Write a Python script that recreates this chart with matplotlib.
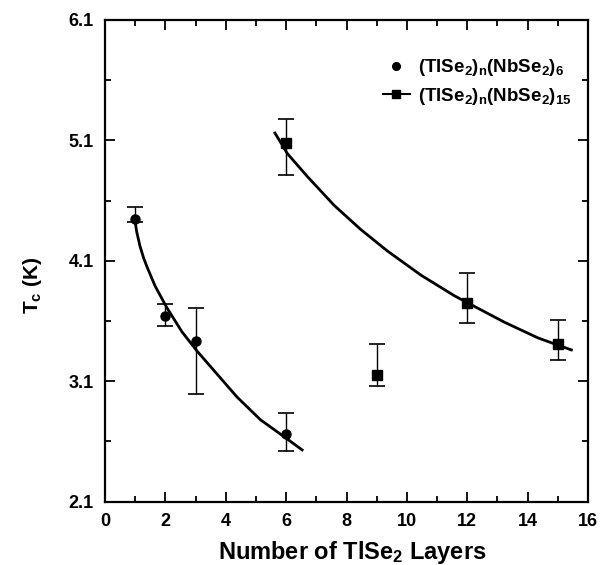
import matplotlib
matplotlib.use("Agg")
import matplotlib.pyplot as plt
from matplotlib.lines import Line2D
from matplotlib.ticker import MultipleLocator

plt.rcParams['font.family'] = ['Liberation Sans', 'DejaVu Sans']
plt.rcParams['font.weight'] = 'bold'
plt.rcParams['mathtext.fontset'] = 'custom'
plt.rcParams['mathtext.rm'] = 'Liberation Sans:bold'
plt.rcParams['mathtext.it'] = 'Liberation Sans:bold'
plt.rcParams['mathtext.bf'] = 'Liberation Sans:bold'

# --- Data: (TlSe2)n(NbSe2)6 ---
n6 = [1, 2, 3, 6]
tc6 = [4.45, 3.64, 3.43, 2.66]
tc6_hi = [4.55, 3.74, 3.71, 2.84]
tc6_lo = [4.42, 3.56, 2.99, 2.52]

# --- Data: (TlSe2)n(NbSe2)15 ---
n15 = [6, 9, 12, 15]
tc15 = [5.08, 3.15, 3.75, 3.41]
tc15_hi = [5.28, 3.41, 4.00, 3.61]
tc15_lo = [4.81, 3.06, 3.58, 3.28]

# fitted curves
fit6_x = [0.97, 1.05, 1.16, 1.27, 1.39, 1.66, 2.05, 2.55, 3.05, 3.71, 4.37, 5.15, 6.04, 6.53]
fit6_y = [4.47, 4.34, 4.22, 4.13, 4.05, 3.89, 3.71, 3.51, 3.35, 3.16, 2.97, 2.78, 2.62, 2.53]
fit15_x = [5.63, 6.04, 6.70, 7.59, 8.47, 9.36, 10.47, 11.57, 12.02, 13.23, 14.34, 15.00, 15.45]
fit15_y = [5.16, 4.99, 4.80, 4.56, 4.36, 4.18, 3.98, 3.81, 3.75, 3.59, 3.46, 3.40, 3.36]

fig = plt.figure(figsize=(6.0, 5.65), dpi=100)
ax = fig.add_axes([0.175, 0.112, 0.805, 0.853])

err6 = [[v - l for v, l in zip(tc6, tc6_lo)], [h - v for v, h in zip(tc6, tc6_hi)]]
err15 = [[v - l for v, l in zip(tc15, tc15_lo)], [h - v for v, h in zip(tc15, tc15_hi)]]

ax.errorbar(n6, tc6, yerr=err6, fmt='o', color='black', ms=6.5, elinewidth=1,
            capsize=5.5, capthick=1.2)
ax.errorbar(n15, tc15, yerr=err15, fmt='s', color='black', ms=6.5, elinewidth=1,
            capsize=5.5, capthick=1.2)
ax.plot(fit6_x, fit6_y, color='black', lw=2, solid_joinstyle='round')
ax.plot(fit15_x, fit15_y, color='black', lw=2, solid_joinstyle='round')

ax.set_xlim(0, 16)
ax.set_ylim(2.1, 6.1)
ax.xaxis.set_major_locator(MultipleLocator(2))
ax.xaxis.set_minor_locator(MultipleLocator(1))
ax.set_yticks([2.1, 3.1, 4.1, 5.1, 6.1])
ax.set_yticks([2.6, 3.6, 4.6, 5.6], minor=True)
ax.tick_params(which='both', direction='in', top=True, right=True, width=1.3,
               labelsize=13, pad=8)
ax.tick_params(which='major', length=7)
ax.tick_params(which='minor', length=4)
for s in ax.spines.values():
    s.set_linewidth(1.6)

ax.set_xlabel(r'Number of TlSe$_2$ Layers', fontsize=17, fontweight='bold')
ax.xaxis.set_label_coords(0.512, -0.078)
ax.set_ylabel(r'T$_c$ (K)', fontsize=15, fontweight='bold')
ax.yaxis.set_label_coords(-0.127, 0.45)

handles = [
    Line2D([], [], marker='o', color='black', ls='none', ms=5.5),
    Line2D([], [], marker='s', color='black', ls='-', lw=1.5, ms=5.5),
]
labels = [r'(TlSe$_2$)$_n$(NbSe$_2$)$_6$', r'(TlSe$_2$)$_n$(NbSe$_2$)$_{15}$']
ax.legend(handles, labels, loc='upper left', frameon=False, fontsize=13.5,
          handlelength=1.45, handletextpad=0.45, labelspacing=0.4,
          borderpad=0, borderaxespad=0, bbox_to_anchor=(0.575, 0.922))

fig.savefig('out.png', dpi=100)
